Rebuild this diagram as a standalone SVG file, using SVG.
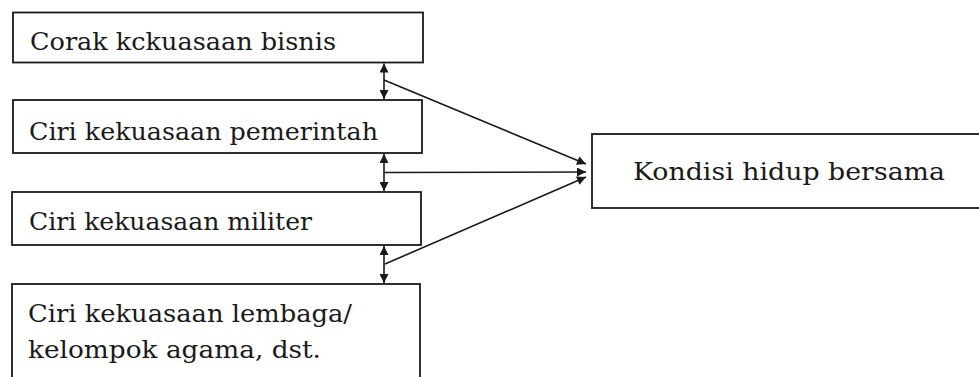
<svg xmlns="http://www.w3.org/2000/svg" width="979" height="377" viewBox="0 0 979 377">
<style>
.box{fill:#fff;stroke:#1a1a1a;stroke-width:1.8}
.t{font-family:'DejaVu Serif','Liberation Serif',serif;font-size:25px;fill:#1a1a1a}
.c{stroke:#1a1a1a;stroke-width:1.6;fill:none}
</style>
<defs>
<marker id="ah" viewBox="0 0 10 10" refX="10" refY="5" markerWidth="11" markerHeight="9" markerUnits="userSpaceOnUse" orient="auto-start-reverse">
<path d="M0,0 L10,5 L0,10 Z" fill="#1a1a1a"/>
</marker>
</defs>
<rect width="979" height="377" fill="#fff"/>
<g id="n1"><rect class="box" x="13" y="12.5" width="410" height="50"/><text class="t" x="30" y="50" textLength="306" lengthAdjust="spacingAndGlyphs">Corak kckuasaan bisnis</text></g>
<g id="n2"><rect class="box" x="13" y="100" width="409" height="53"/><text class="t" x="29" y="140" textLength="349" lengthAdjust="spacingAndGlyphs">Ciri kekuasaan pemerintah</text></g>
<g id="n3"><rect class="box" x="12" y="192" width="409" height="53"/><text class="t" x="29" y="230" textLength="283" lengthAdjust="spacingAndGlyphs">Ciri kekuasaan militer</text></g>
<g id="n4"><rect class="box" x="12" y="284" width="408" height="110"/><text class="t" x="28" y="322" textLength="324" lengthAdjust="spacingAndGlyphs">Ciri kekuasaan lembaga/</text><text class="t" x="28" y="358" textLength="293" lengthAdjust="spacingAndGlyphs">kelompok agama, dst.</text></g>
<g id="n5"><rect class="box" x="592" y="134" width="400" height="74"/><text class="t" x="633" y="180" textLength="312" lengthAdjust="spacingAndGlyphs">Kondisi hidup bersama</text></g>
<g id="connectors">
<line class="c" x1="384" y1="63.5" x2="384" y2="99" marker-start="url(#ah)" marker-end="url(#ah)"/>
<line class="c" x1="384" y1="154" x2="384" y2="191" marker-start="url(#ah)" marker-end="url(#ah)"/>
<line class="c" x1="384" y1="246" x2="384" y2="283" marker-start="url(#ah)" marker-end="url(#ah)"/>
<line class="c" x1="384" y1="80" x2="586" y2="164" marker-end="url(#ah)"/>
<line class="c" x1="384" y1="172.5" x2="586" y2="172" marker-end="url(#ah)"/>
<line class="c" x1="385" y1="264" x2="586" y2="177" marker-end="url(#ah)"/>
</g>
</svg>
